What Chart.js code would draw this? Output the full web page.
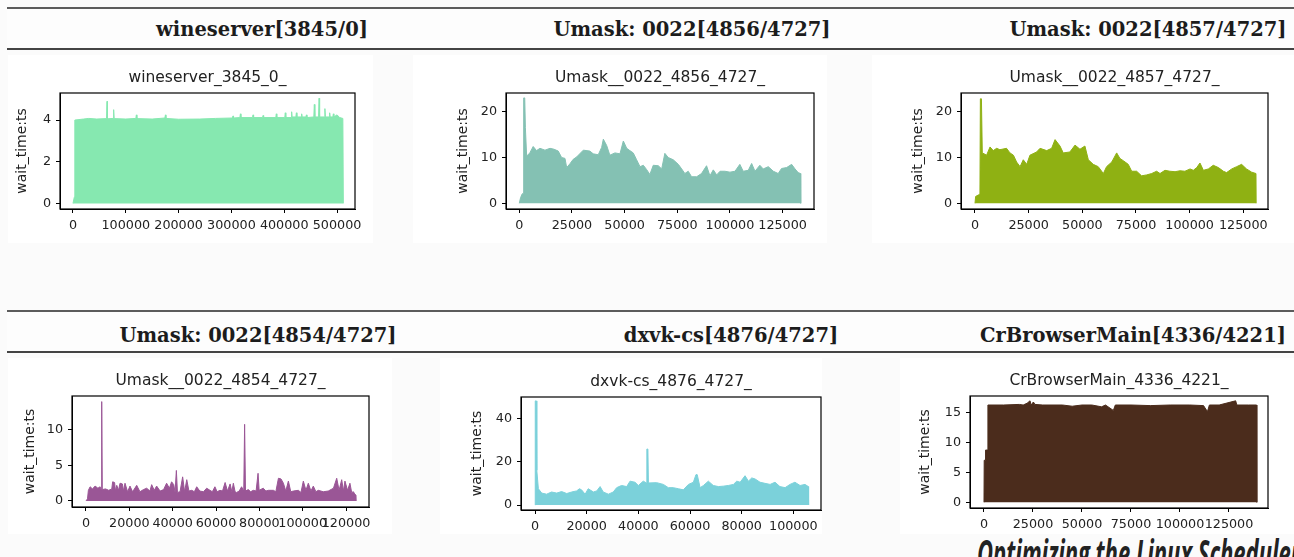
<!DOCTYPE html>
<html>
<head>
<meta charset="utf-8">
<script src="https://cdn.jsdelivr.net/npm/chart.js@4.4.1/dist/chart.umd.min.js"></script>
<style>
  html, body { margin: 0; padding: 0; }
  body { width: 1294px; height: 557px; overflow: hidden; position: relative; background: #fbfbfb; }
  .img { position: absolute; background: #fff; }
  .band { position: absolute; left: 7px; right: 0; background: #fdfdfd; }
  .rule { position: absolute; left: 7px; right: 0; height: 2px; background: #5c5c5c; }
  .hdr { position: absolute; transform: translateX(-50%); font-family: "DejaVu Serif", serif; font-weight: bold; font-size: 19.5px; line-height: 20px; color: #1c1c1c; white-space: nowrap; }
  canvas { position: absolute; }
  .foot { position: absolute; left: 977px; top: 533px; font-family: "Open Sans", sans-serif; font-weight: bold; font-style: italic; font-size: 22px; line-height: 22px; color: #222; white-space: nowrap; transform: scaleY(1.7); transform-origin: top left; }
</style>
</head>
<body>
<div class="img" style="left:8px;top:55px;width:365px;height:188px"></div>
<div class="img" style="left:413px;top:55px;width:414px;height:188px"></div>
<div class="img" style="left:872px;top:55px;width:422px;height:188px"></div>
<div class="img" style="left:8px;top:358px;width:384px;height:176px"></div>
<div class="img" style="left:440px;top:358px;width:382px;height:176px"></div>
<div class="img" style="left:900px;top:358px;width:394px;height:176px"></div>

<div class="band" style="top:7px;height:42px"></div>
<div class="rule" style="top:7px"></div>
<div class="rule" style="top:48px;background:#444"></div>
<div class="band" style="top:310px;height:42px"></div>
<div class="rule" style="top:310px"></div>
<div class="rule" style="top:351px;background:#444"></div>

<div class="hdr" style="left:262px;top:20px">wineserver[3845/0]</div>
<div class="hdr" style="left:692px;top:20px">Umask: 0022[4856/4727]</div>
<div class="hdr" style="left:1148px;top:20px">Umask: 0022[4857/4727]</div>
<div class="hdr" style="left:258px;top:326px">Umask: 0022[4854/4727]</div>
<div class="hdr" style="left:731px;top:326px">dxvk-cs[4876/4727]</div>
<div class="hdr" style="left:1133px;top:326px">CrBrowserMain[4336/4221]</div>

<div class="foot">Optimizing the Linux Scheduler</div>

<script>
// wait_time samples [x, wait_time:ts]
const wineserver = [
  [0, 0], [2500, 0.3], [3500, 4.0], [20000, 4.05], [30000, 4.08], [45000, 4.05],
  [63500, 4.07], [64400, 4.9], [65300, 4.06], [76000, 4.08], [77000, 4.5], [78000, 4.07],
  [100000, 4.05], [119000, 4.08], [120000, 4.25], [121000, 4.07], [150000, 4.05],
  [174000, 4.1], [175000, 4.25], [176000, 4.08], [200000, 4.04], [240000, 4.05],
  [270000, 4.08], [302000, 4.1], [303000, 4.2], [304000, 4.1], [316000, 4.12],
  [317000, 4.3], [318000, 4.12], [340000, 4.12], [341000, 4.25], [342000, 4.12],
  [359000, 4.12], [360000, 4.22], [361000, 4.12], [384000, 4.12], [385000, 4.3],
  [386000, 4.12], [401000, 4.12], [402000, 4.35], [403000, 4.12], [413000, 4.12],
  [414000, 4.4], [415000, 4.15], [422000, 4.15], [423000, 4.35], [424000, 4.15],
  [432000, 4.15], [433000, 4.3], [434000, 4.15], [441000, 4.15], [442000, 4.25],
  [443000, 4.12], [456000, 4.15], [457000, 4.75], [458000, 4.15], [465000, 4.15],
  [466000, 5.05], [467000, 4.15], [476000, 4.15], [477000, 4.55], [478000, 4.15],
  [485000, 4.15], [486000, 4.35], [487000, 4.15], [492000, 4.15], [493000, 4.3],
  [494000, 4.15], [500000, 4.25], [505000, 4.12], [511000, 4.08], [512000, 0]
];

const umask4856 = [
  [0, 0], [600, 1.2], [1300, 2.0], [1900, 2.2], [2100, 23.0], [2600, 23.0], [2900, 16.5],
  [3500, 10.3], [5000, 11.0], [6600, 12.4], [8200, 11.5], [9800, 12.0], [12200, 11.6],
  [14600, 12.0], [16500, 11.8], [18500, 11.4], [20100, 10.0], [21700, 9.8], [22500, 7.8],
  [24000, 8.6], [25600, 9.6], [27200, 10.1], [30400, 11.6], [33500, 11.4], [35100, 10.8],
  [37500, 10.6], [39100, 12.2], [39900, 14.0], [41500, 12.6], [43000, 10.5], [45400, 11.0],
  [47800, 10.8], [49400, 13.6], [51000, 12.0], [52500, 11.5], [54100, 11.0], [55700, 9.5],
  [57300, 8.0], [58900, 8.3], [60400, 7.4], [62000, 6.3], [63600, 8.3], [66000, 8.2],
  [67600, 7.5], [69100, 10.9], [70700, 10.0], [73100, 9.5], [75500, 8.5], [77100, 7.5],
  [78600, 6.5], [80200, 7.0], [81800, 5.8], [84200, 5.8], [86500, 6.5], [88900, 8.2],
  [90500, 6.0], [92100, 7.3], [93700, 6.2], [95300, 7.0], [97600, 7.0], [100000, 6.8],
  [102400, 7.0], [104700, 8.5], [106300, 7.0], [108700, 7.2], [110300, 8.7], [111900, 7.0],
  [114200, 8.3], [115800, 7.5], [118200, 8.0], [120600, 7.0], [122900, 6.5], [124500, 7.6],
  [126900, 7.8], [129300, 8.5], [130900, 7.5], [132400, 6.7], [133500, 6.5], [133600, 0]
];

const umask4857 = [
  [0, 0], [300, 1.5], [1500, 1.8], [2300, 2.0], [2500, 22.8], [3000, 22.8], [3400, 11.0],
  [4200, 10.8], [5400, 10.5], [7000, 12.3], [8500, 11.5], [10100, 12.0], [11600, 11.7],
  [14700, 12.0], [16300, 11.0], [17900, 10.5], [19400, 9.0], [21000, 8.0], [22500, 9.5],
  [24100, 8.5], [25600, 10.5], [28700, 11.2], [30300, 12.0], [33400, 11.5], [35700, 12.0],
  [37300, 13.9], [39600, 12.5], [41100, 11.0], [44200, 11.2], [46600, 12.7], [48900, 11.8],
  [51200, 12.5], [52800, 9.5], [55100, 8.5], [57400, 8.0], [59800, 6.5], [61300, 8.0],
  [63700, 9.0], [66000, 11.0], [67500, 9.8], [69100, 9.3], [71400, 8.5], [73000, 7.0],
  [75300, 7.0], [77600, 6.0], [80000, 6.2], [82300, 6.5], [84600, 7.0], [86200, 6.5],
  [88500, 7.2], [90800, 7.0], [93200, 6.9], [95500, 7.1], [97800, 7.0], [100200, 7.5],
  [101700, 7.2], [103300, 7.8], [104800, 8.8], [106400, 7.2], [108700, 7.5], [111000, 8.3],
  [113400, 7.8], [115700, 7.0], [117200, 6.7], [119600, 7.5], [121900, 8.0], [124200, 8.5],
  [126500, 7.5], [128900, 6.8], [130900, 6.5], [131000, 0]
];

const umask4854 = [
  [0, 0], [700, 0.3], [1100, 1.5], [1900, 2.0], [3000, 1.7], [4200, 2.1], [5500, 1.8],
  [6500, 2.0], [7000, 1.6], [7250, 14.0], [7500, 1.6], [9000, 1.7], [10500, 1.5],
  [11900, 1.7], [12300, 2.7], [13200, 2.6], [13600, 1.4], [14200, 2.2], [15000, 1.5],
  [15700, 2.5], [16800, 2.4], [17300, 1.4], [18000, 2.5], [19200, 1.3], [20300, 2.1],
  [21500, 1.3], [23400, 2.2], [24900, 1.3], [26500, 1.6], [28000, 1.8], [29500, 1.4],
  [30300, 2.3], [31500, 1.5], [32600, 2.1], [34200, 1.4], [35800, 1.6], [37200, 2.5],
  [38500, 1.8], [39500, 2.7], [40500, 2.3], [41100, 1.2], [41700, 4.3], [42200, 1.2],
  [43400, 1.3], [44600, 3.4], [45500, 1.3], [46500, 3.0], [47500, 1.4], [48800, 1.5],
  [50000, 1.3], [51100, 2.0], [52500, 1.4], [54200, 1.3], [55700, 1.8], [57200, 1.5],
  [58300, 1.3], [59500, 2.0], [60500, 1.3], [61800, 1.5], [63000, 1.4], [64200, 2.6],
  [65300, 1.4], [66500, 2.4], [67300, 1.3], [68000, 2.5], [68800, 1.3], [69500, 1.2],
  [70700, 1.4], [71800, 2.0], [72800, 1.4], [73200, 10.8], [73600, 1.4], [74900, 1.6],
  [76000, 1.3], [77200, 1.5], [78500, 1.4], [79400, 3.9], [79900, 1.5], [81800, 1.8],
  [83000, 1.4], [84200, 1.5], [86500, 1.5], [87600, 1.3], [88800, 3.2], [90000, 3.1],
  [91100, 2.5], [92200, 1.4], [93400, 2.8], [94500, 1.3], [95700, 1.4], [98000, 1.5],
  [99200, 1.2], [100300, 2.8], [101500, 1.5], [102600, 2.5], [103800, 1.4], [104900, 2.1],
  [106100, 1.3], [107200, 1.5], [109500, 1.3], [111800, 1.4], [114200, 1.8], [115700, 3.2],
  [116800, 1.5], [118000, 3.0], [118800, 1.4], [119500, 2.8], [120700, 1.5], [121800, 2.5],
  [122600, 1.2], [123400, 1.3], [124000, 1.0], [124600, 0.8], [124700, 0]
];

const dxvkCs = [
  [0, 0], [100, 48.0], [500, 48.0], [700, 16.0], [1300, 7.5], [2600, 5.5], [4500, 5.0],
  [6400, 6.0], [8400, 5.5], [10300, 6.2], [12300, 5.3], [14200, 6.0], [16100, 6.5],
  [17200, 7.5], [18000, 7.0], [19400, 5.0], [20600, 7.5], [22600, 6.0], [23900, 6.5],
  [25200, 8.5], [26400, 6.0], [28400, 5.0], [30300, 6.0], [31600, 8.0], [33500, 9.0],
  [35500, 8.5], [36800, 11.0], [38700, 10.5], [40000, 9.0], [41900, 11.0], [43100, 10.2],
  [43300, 25.8], [43700, 25.8], [43900, 10.2], [44500, 10.2], [47100, 10.3], [49700, 9.5],
  [51600, 8.0], [53500, 8.0], [55500, 7.5], [57400, 7.0], [59400, 9.5], [61300, 10.5],
  [62300, 14.0], [62800, 14.0], [63900, 8.0], [65200, 9.0], [67100, 11.0], [69000, 9.0],
  [71000, 8.5], [72900, 8.7], [74800, 9.0], [76800, 9.5], [78100, 11.0], [79400, 10.5],
  [81300, 13.5], [82600, 11.0], [83900, 12.5], [85200, 12.0], [87100, 10.5], [89000, 10.0],
  [91000, 9.5], [92900, 10.5], [94800, 8.5], [96800, 8.0], [98700, 9.5], [100600, 10.5],
  [102600, 9.0], [104500, 9.5], [105800, 8.5], [105900, 0]
];

const crBrowserMain = [
  [0, 0], [100, 7.0], [600, 7.0], [800, 8.7], [1700, 8.7], [2000, 16.2], [10000, 16.2],
  [18000, 16.3], [20000, 16.2], [22000, 16.5], [23500, 16.9], [24000, 16.2], [25200, 16.7],
  [26000, 16.3], [30000, 16.2], [40000, 16.2], [45000, 16.0], [50000, 16.2], [55000, 16.2],
  [60000, 15.9], [62000, 16.2], [66000, 15.3], [67000, 16.2], [75000, 16.2], [85000, 16.1],
  [95000, 16.2], [105000, 16.2], [112000, 16.1], [114000, 15.1], [115000, 16.2],
  [120000, 16.2], [128400, 16.9], [129000, 16.2], [135000, 16.2], [139100, 16.2], [139200, 0]
];

// tick labels
const xTicks500k = [0, 100000, 200000, 300000, 400000, 500000];
const xTicks125k = [0, 25000, 50000, 75000, 100000, 125000];
const xTicks120k = [0, 20000, 40000, 60000, 80000, 100000, 120000];
const xTicks100k = [0, 20000, 40000, 60000, 80000, 100000];
const yTicksWine = [0, 2, 4];
const yTicksUmask = [0, 10, 20];
const yTicks4854 = [0, 5, 10];
const yTicksDxvk = [0, 20, 40];
const yTicksCr = [0, 5, 10, 15];

// panel layout: frame box in page pixels + axis ranges
const panels = [
  { title: 'wineserver_3845_0_', points: wineserver, color: '#86e8b0',
    xTicks: xTicks500k, yTicks: yTicksWine,
    box: { L: 60, R: 355, T: 93, B: 209, labelX: 22 }, xRange: [-24600, 534000], yRange: [-0.27, 5.3] },
  { title: 'Umask__0022_4856_4727_', points: umask4856, color: '#84c1b3',
    xTicks: xTicks125k, yTicks: yTicksUmask,
    box: { L: 506, R: 814, T: 93, B: 209, labelX: 463 }, xRange: [-6300, 139900], yRange: [-1.24, 24.07] },
  { title: 'Umask__0022_4857_4727_', points: umask4857, color: '#8fb113',
    xTicks: xTicks125k, yTicks: yTicksUmask,
    box: { L: 961, R: 1268, T: 93, B: 209, labelX: 918 }, xRange: [-6520, 136500], yRange: [-1.24, 24.07] },
  { title: 'Umask__0022_4854_4727_', points: umask4854, color: '#9a5696',
    xTicks: xTicks120k, yTicks: yTicks4854,
    box: { L: 72, R: 369, T: 396, B: 507, labelX: 30 }, xRange: [-6460, 130600], yRange: [-0.85, 14.79] },
  { title: 'dxvk-cs_4876_4727_', points: dxvkCs, color: '#7bd1da',
    xTicks: xTicks100k, yTicks: yTicksDxvk,
    box: { L: 521, R: 821, T: 397, B: 510, labelX: 477 }, xRange: [-5420, 110700], yRange: [-2.3, 49.8] },
  { title: 'CrBrowserMain_4336_4221_', points: crBrowserMain, color: '#4b2c1c',
    xTicks: xTicks125k, yTicks: yTicksCr,
    box: { L: 970, R: 1268, T: 396, B: 508, labelX: 925 }, xRange: [-7140, 144900], yRange: [-0.95, 17.7] }
];

// full box around the axes, like matplotlib spines
const frame = {
  id: 'frame',
  afterDatasetsDraw(chart) {
    const { ctx, chartArea: a } = chart;
    ctx.save();
    ctx.strokeStyle = '#000';
    ctx.lineWidth = 1.2;
    ctx.strokeRect(a.left, a.top, a.right - a.left, a.bottom - a.top);
    ctx.restore();
  }
};

const tickFont = { family: 'DejaVu Sans', size: 12.75, lineHeight: 1.2 };
const labelFont = { family: 'DejaVu Sans', size: 14, lineHeight: 1.2 };
const titleFont = { family: 'DejaVu Sans', size: 15.5, weight: 'normal', lineHeight: 1.2 };
const yW = 58, topH = 24, xH = 30, padR = 30;

function drawPanel(p) {
  const b = p.box;
  const cv = document.createElement('canvas');
  cv.width = yW + (b.R - b.L) + padR;
  cv.height = topH + (b.B - b.T) + xH;
  cv.style.left = (b.L - yW) + 'px';
  cv.style.top = (b.T - topH) + 'px';
  document.body.appendChild(cv);

  new Chart(cv, {
    type: 'line',
    data: {
      datasets: [{
        data: p.points.map(([x, y]) => ({ x, y })),
        borderColor: p.color,
        backgroundColor: p.color,
        borderWidth: 1,
        fill: 'origin',
        pointRadius: 0,
        tension: 0
      }]
    },
    options: {
      responsive: false,
      animation: false,
      devicePixelRatio: 1,
      layout: { padding: { right: padR } },
      plugins: {
        legend: { display: false },
        tooltip: { enabled: false },
        title: {
          display: true,
          text: p.title,
          fullSize: false,
          color: '#222',
          font: titleFont,
          padding: { top: 0, bottom: topH - titleFont.size * 1.2 }
        }
      },
      scales: {
        x: {
          type: 'linear',
          min: p.xRange[0],
          max: p.xRange[1],
          grid: { display: true, drawOnChartArea: false, drawTicks: true, tickLength: 4, color: '#000' },
          border: { display: true, color: '#000', width: 1 },
          ticks: { autoSkip: false, maxRotation: 0, minRotation: 0, padding: 5, color: '#222', font: tickFont, callback: v => String(v) },
          afterBuildTicks: s => { s.ticks = p.xTicks.map(v => ({ value: v })); },
          afterFit: s => { s.height = xH; }
        },
        y: {
          min: p.yRange[0],
          max: p.yRange[1],
          grid: { display: true, drawOnChartArea: false, drawTicks: true, tickLength: 4, color: '#000' },
          border: { display: true, color: '#000', width: 1 },
          ticks: { autoSkip: false, padding: 5, color: '#222', font: tickFont, callback: v => String(v) },
          title: {
            display: true,
            text: 'wait_time:ts',
            color: '#222',
            font: labelFont,
            padding: { top: b.labelX - (b.L - yW) - labelFont.size * 0.6, bottom: 0 }
          },
          afterBuildTicks: s => { s.ticks = p.yTicks.map(v => ({ value: v })); },
          afterFit: s => { s.width = yW; }
        }
      }
    },
    plugins: [frame]
  });
}

panels.forEach(drawPanel);
</script>
</body>
</html>
